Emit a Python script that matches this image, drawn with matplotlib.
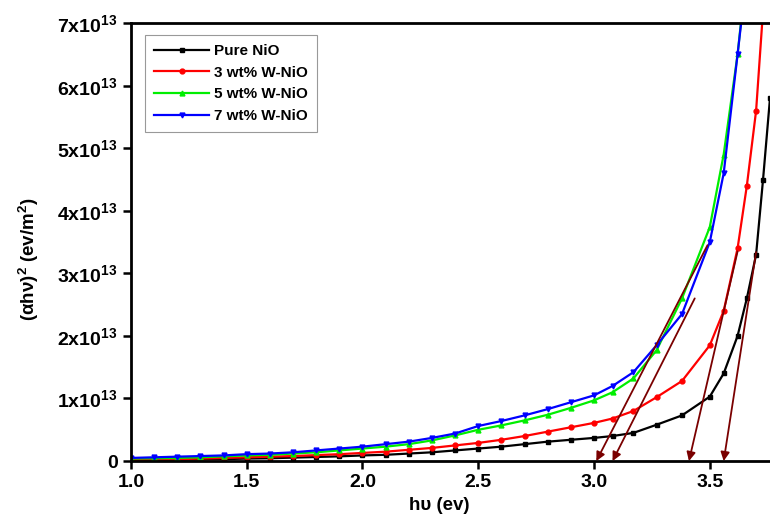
import matplotlib
matplotlib.use("Agg")
import matplotlib.pyplot as plt
import numpy as np

plt.rcParams['font.family'] = ['Liberation Sans', 'DejaVu Sans']
plt.rcParams['font.weight'] = 'bold'
plt.rcParams['mathtext.fontset'] = 'custom'
plt.rcParams['mathtext.rm'] = 'Liberation Sans:bold'
plt.rcParams['mathtext.bf'] = 'Liberation Sans:bold'
plt.rcParams['mathtext.default'] = 'bf'

# photon energy (eV)
hv = [1.0, 1.1, 1.2, 1.3, 1.4, 1.5, 1.6, 1.7, 1.8, 1.9, 2.0, 2.1, 2.2, 2.3, 2.4, 2.5,
      2.6, 2.7, 2.8, 2.9, 3.0, 3.08, 3.17, 3.27, 3.38, 3.5, 3.56, 3.62, 3.66, 3.70,
      3.73, 3.76]

# (alpha h nu)^2 in units of 1e13 eV/m^2
pure_nio = [0.01, 0.015, 0.02, 0.025, 0.03, 0.04, 0.045, 0.055, 0.065, 0.075, 0.09,
            0.10, 0.12, 0.14, 0.17, 0.20, 0.23, 0.27, 0.31, 0.34, 0.37, 0.40, 0.45,
            0.58, 0.73, 1.03, 1.40, 2.00, 2.60, 3.30, 4.50, 5.80]
w3_nio = [0.02, 0.025, 0.03, 0.04, 0.05, 0.06, 0.07, 0.08, 0.095, 0.11, 0.13, 0.15,
          0.18, 0.21, 0.25, 0.29, 0.34, 0.40, 0.47, 0.54, 0.61, 0.68, 0.80, 1.02,
          1.28, 1.85, 2.40, 3.40, 4.40, 5.60, 7.20, 8.60]
w5_nio = [0.04, 0.045, 0.05, 0.06, 0.075, 0.09, 0.10, 0.12, 0.14, 0.17, 0.20, 0.23,
          0.27, 0.33, 0.41, 0.50, 0.57, 0.65, 0.74, 0.85, 0.97, 1.10, 1.32, 1.77,
          2.60, 3.74, 4.90, 6.50, 7.90]
w7_nio = [0.05, 0.06, 0.07, 0.08, 0.09, 0.11, 0.12, 0.14, 0.17, 0.20, 0.23, 0.27,
          0.31, 0.37, 0.44, 0.56, 0.64, 0.73, 0.83, 0.94, 1.05, 1.20, 1.42, 1.85,
          2.35, 3.50, 4.60, 6.50, 7.80]

labels = ['Pure NiO', '3 wt% W-NiO', '5 wt% W-NiO', '7 wt% W-NiO']
colors = ['black', '#ff0000', '#00ee00', '#0000ff']
markers = ['s', 'o', '^', 'v']

# band gap extrapolation: tangent start point and intercept on the energy axis
tan_x = [3.70, 3.62, 3.49, 3.435]
tan_y = [3.34, 3.35, 3.45, 2.60]
gap = [3.56, 3.41, 3.01, 3.08]

fig = plt.figure(figsize=(7.7, 5.14), dpi=100)
ax = fig.add_axes([0.170, 0.103, 0.833, 0.852])

series = [pure_nio, w3_nio, w5_nio, w7_nio]
for ys, lab, c, m in zip(series, labels, colors, markers):
    x = np.array(hv[:len(ys)])
    y = np.array(ys) * 1e13
    ax.plot(x, y, color=c, marker=m, markersize=3.5, lw=1.6, label=lab)

for x0, y0, g in zip(tan_x, tan_y, gap):
    ax.annotate('', xy=(g, 0), xytext=(x0, y0 * 1e13),
                arrowprops=dict(arrowstyle='-|>', color='#7a0000', lw=1.3,
                                mutation_scale=13, shrinkA=0, shrinkB=0))

ax.set_xlim(1.0, 3.77)
ax.set_ylim(0, 7e13)
ax.set_xticks([1.0, 1.5, 2.0, 2.5, 3.0, 3.5])
ax.set_xticklabels(['1.0', '1.5', '2.0', '2.5', '3.0', '3.5'])
yt = [0, 1, 2, 3, 4, 5, 6, 7]
ax.set_yticks([v * 1e13 for v in yt])
ax.set_yticklabels(['0'] + ['%dx10$^{13}$' % v for v in yt[1:]])
ax.tick_params(labelsize=14, width=1.8, length=6, direction='out')

for s in ['left', 'bottom', 'top']:
    ax.spines[s].set_linewidth(2)
ax.spines['right'].set_visible(False)

ax.set_xlabel('h\u03c5 (ev)', fontsize=13.5, fontweight='bold')
ax.set_ylabel('(\u03b1h\u03bd)$^2$ (ev/m$^2$)', fontsize=13.5, fontweight='bold')
ax.yaxis.set_label_coords(-0.14, 0.46)
ax.xaxis.set_label_coords(0.48, -0.083)

leg = ax.legend(loc='upper left', bbox_to_anchor=(145 / 770, 1 - 35 / 514),
                bbox_transform=fig.transFigure, borderaxespad=0,
                handlelength=3.6, numpoints=1, labelspacing=0.5,
                fancybox=False, framealpha=1, borderpad=0.6, handletextpad=0.3,
                prop={'weight': 'bold', 'size': 11})
leg.get_frame().set_edgecolor('#999999')
leg.get_frame().set_linewidth(0.8)

fig.savefig('out.png', dpi=100)
